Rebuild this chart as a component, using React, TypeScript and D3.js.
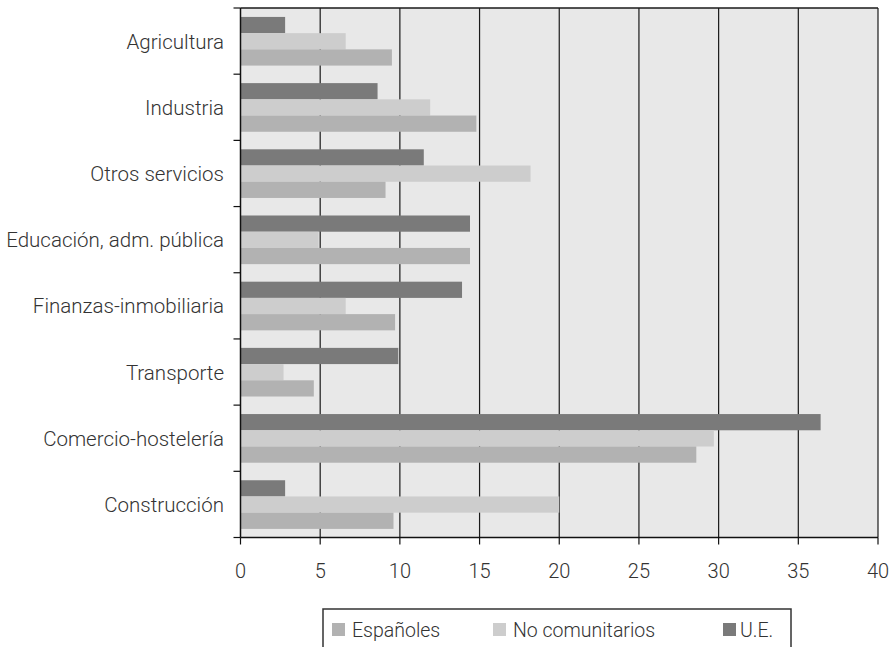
import React from "react";
import * as d3 from "d3";

const categories = [
  "Agricultura",
  "Industria",
  "Otros servicios",
  "Educación, adm. pública",
  "Finanzas-inmobiliaria",
  "Transporte",
  "Comercio-hostelería",
  "Construcción",
];
const seriesNames = ["U.E.", "No comunitarios", "Españoles"];
const ueValues = [2.8, 8.6, 11.5, 14.4, 13.9, 9.9, 36.4, 2.8];
const noComValues = [6.6, 11.9, 18.2, 4.9, 6.6, 2.7, 29.7, 20.0];
const espValues = [9.5, 14.8, 9.1, 14.4, 9.7, 4.6, 28.6, 9.6];
const xTicks = [0, 5, 10, 15, 20, 25, 30, 35, 40];
const legendOrder = ["Españoles", "No comunitarios", "U.E."];

const colors: Record<string, string> = {
  "U.E.": "#7a7a7a",
  "No comunitarios": "#cdcdcd",
  "Españoles": "#b2b2b2",
};

const seriesValues: Record<string, number[]> = {
  "U.E.": ueValues,
  "No comunitarios": noComValues,
  "Españoles": espValues,
};

export default function App() {
  const W = 890, H = 647;
  const left = 240.5, right = 878, top = 8, bottom = 537.5;
  const x = d3.scaleLinear().domain([0, 40]).range([left, right]);
  const y = d3.scaleBand<string>().domain(categories).range([top, bottom]).padding(0);
  const bw = y.bandwidth();
  const inner = d3.scaleBand<string>().domain(seriesNames).range([bw * 0.135, bw * 0.87]).padding(0);
  const font = "Roboto, 'Open Sans', sans-serif";
  const tickYs = categories.map((c) => y(c) as number).concat([bottom]);

  const legendX = [332, 493, 723];
  const legendTextX = [352, 513, 740];

  return (
    <svg width={W} height={H} style={{ position: "absolute", left: 0, top: 0 }} fontFamily={font}>
      <rect x={0} y={0} width={W} height={H} fill="#ffffff" />
      <rect x={left} y={top} width={right - left} height={bottom - top} fill="#e8e8e8" />
      {xTicks.slice(1).map((t) => (
        <line key={"g" + t} x1={x(t)} x2={x(t)} y1={top} y2={bottom} stroke="#1a1a1a" strokeWidth={1.2} />
      ))}
      <line x1={left} x2={right} y1={top} y2={top} stroke="#1a1a1a" strokeWidth={1.5} />
      {categories.map((c, i) =>
        seriesNames.map((s) => (
          <rect
            key={c + s}
            x={x(0)}
            y={(y(c) as number) + (inner(s) as number)}
            width={x(seriesValues[s][i]) - x(0)}
            height={inner.bandwidth()}
            fill={colors[s]}
          />
        ))
      )}
      {/* axes */}
      <line x1={left} x2={left} y1={top} y2={bottom} stroke="#111" strokeWidth={1.5} />
      <line x1={left} x2={right} y1={bottom} y2={bottom} stroke="#111" strokeWidth={1.5} />
      {tickYs.map((ty, i) => (
        <line key={"yt" + i} x1={left - 7} x2={left} y1={ty} y2={ty} stroke="#111" strokeWidth={1.2} />
      ))}
      {xTicks.map((t) => (
        <line key={"xt" + t} x1={x(t)} x2={x(t)} y1={bottom} y2={bottom + 7} stroke="#111" strokeWidth={1.2} />
      ))}
      {xTicks.map((t) => (
        <text key={"xl" + t} x={x(t)} y={578} textAnchor="middle" fontSize={20} fill="#333" fontWeight={300}>
          {t}
        </text>
      ))}
      {categories.map((c) => (
        <text
          key={"yl" + c}
          x={224}
          y={(y(c) as number) + bw / 2 + 7.5}
          textAnchor="end"
          fontSize={20.5}
          fill="#333"
          fontWeight={300}
        >
          {c}
        </text>
      ))}
      {/* legend */}
      <rect x={323} y={609} width={468} height={60} fill="#fff" stroke="#333" strokeWidth={1.5} />
      {legendOrder.map((s, i) => (
        <g key={"lg" + s}>
          <rect x={legendX[i]} y={623} width={13} height={13} fill={colors[s]} />
          <text x={legendTextX[i]} y={637} fontSize={19.5} fill="#333" fontWeight={300}>
            {s}
          </text>
        </g>
      ))}
    </svg>
  );
}
